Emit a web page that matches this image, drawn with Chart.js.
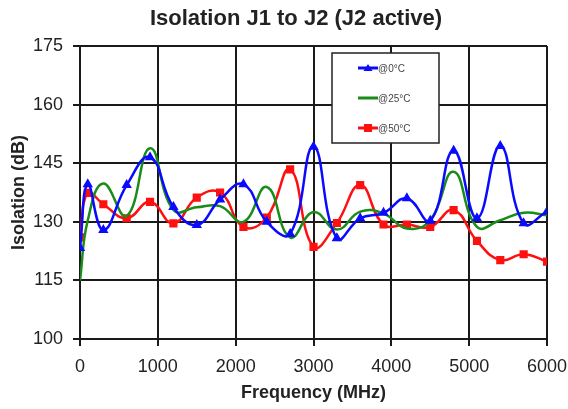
<!DOCTYPE html>
<html>
<head>
<meta charset="utf-8">
<script src="https://cdn.jsdelivr.net/npm/chart.js@4.4.1/dist/chart.umd.min.js"></script>
<style>
  html, body { margin: 0; padding: 0; background: #fff; }
</style>
</head>
<body>
<canvas id="chartCanvas" width="568" height="409"></canvas>
<script>
// --- Data ---
const freqMHz = [0, 100, 300, 600, 900, 1200, 1500, 1800, 2100, 2400, 2700, 3000, 3300, 3600, 3900, 4200, 4500, 4800, 5100, 5400, 5700, 6000];
const iso0C  = [123.3, 139.6, 127.9, 139.4, 146.5, 133.8, 129.2, 135.7, 139.6, 130.0, 126.9, 149.2, 125.8, 130.9, 132.3, 136.0, 130.3, 148.2, 130.9, 149.4, 129.6, 132.6];
const iso25C = [115.0, 130.4, 139.8, 131.5, 148.8, 133.0, 133.7, 134.0, 130.0, 138.9, 126.0, 132.5, 128.0, 132.6, 132.1, 128.3, 130.4, 142.8, 128.7, 130.4, 132.3, 131.7];
const iso50C = [126.0, 137.4, 134.5, 130.9, 135.1, 129.6, 136.2, 137.5, 128.7, 131.1, 143.4, 123.6, 129.7, 139.4, 129.3, 129.3, 128.7, 133.0, 125.1, 120.2, 121.7, 119.8];
const seriesNames = ["@0°C", "@25°C", "@50°C"];
const yTicks = [100, 115, 130, 145, 160, 175];
const xTicks = [0, 1000, 2000, 3000, 4000, 5000, 6000];

const chartTitle = "Isolation J1 to J2 (J2 active)";
const textColor = "#222";

const toPoints = vals => vals.map((v, i) => ({ x: freqMHz[i], y: v }));

// --- Title drawn over the plot ---
const titlePlugin = {
  id: "plotTitle",
  afterDraw(chart) {
    const ctx = chart.ctx;
    ctx.save();
    ctx.fillStyle = textColor;
    ctx.font = "bold 22px 'Liberation Sans', Arial, sans-serif";
    ctx.textAlign = "center";
    ctx.textBaseline = "middle";
    ctx.fillText(chartTitle, 296, 19);
    ctx.restore();
  }
};

// --- Boxed legend inside the plot ---
const boxLegend = {
  id: "boxLegend",
  afterDatasetsDraw(chart) {
    const ctx = chart.ctx;
    const bx = 332, by = 53, bw = 107, bh = 90;
    ctx.save();
    ctx.fillStyle = "#fff";
    ctx.fillRect(bx, by, bw, bh);
    ctx.strokeStyle = "#222";
    ctx.lineWidth = 1.5;
    ctx.strokeRect(bx, by, bw, bh);
    chart.data.datasets.forEach((ds, i) => {
      const cy = 68 + i * 30;
      ctx.strokeStyle = ds.borderColor;
      ctx.lineWidth = 3;
      ctx.beginPath();
      ctx.moveTo(358, cy);
      ctx.lineTo(378, cy);
      ctx.stroke();
      ctx.fillStyle = ds.borderColor;
      if (ds.pointStyle === "triangle" && ds.pointRadius > 0) {
        ctx.beginPath();
        ctx.moveTo(368, cy - 4);
        ctx.lineTo(372.5, cy + 3);
        ctx.lineTo(363.5, cy + 3);
        ctx.closePath();
        ctx.fill();
      } else if (ds.pointStyle === "rect" && ds.pointRadius > 0) {
        ctx.fillRect(364, cy - 4, 8, 8);
      }
      ctx.fillStyle = "#444";
      ctx.font = "10px 'Liberation Sans', Arial, sans-serif";
      ctx.textAlign = "left";
      ctx.textBaseline = "middle";
      ctx.fillText(ds.label, 378, cy + 1);
    });
    ctx.restore();
  }
};

const tickFont = { family: "'Liberation Sans', Arial, sans-serif", size: 18 };
const titleFont = { family: "'Liberation Sans', Arial, sans-serif", size: 18, weight: "bold" };
const gridStyle = { color: "#1a1a1a", lineWidth: 2, tickLength: 7, tickColor: "#1a1a1a", tickWidth: 2 };

const cfg = {
  type: "line",
  data: {
    datasets: [
      {
        label: seriesNames[0], data: toPoints(iso0C),
        borderColor: "#0a0aff", backgroundColor: "#0a0aff",
        borderWidth: 2.5, pointStyle: "triangle", pointRadius: 3.5, tension: 0.45
      },
      {
        label: seriesNames[1], data: toPoints(iso25C),
        borderColor: "#1a8c1a", backgroundColor: "#1a8c1a",
        borderWidth: 2.5, pointStyle: "circle", pointRadius: 0, tension: 0.45
      },
      {
        label: seriesNames[2], data: toPoints(iso50C),
        borderColor: "#ff1010", backgroundColor: "#ff1010",
        borderWidth: 2.5, pointStyle: "rect", pointRadius: 4, tension: 0.45
      }
    ]
  },
  options: {
    responsive: false,
    animation: false,
    layout: { padding: { top: 46, right: 21, left: 0, bottom: 0 } },
    plugins: {
      legend: { display: false },
      title: { display: false },
      tooltip: { enabled: false }
    },
    scales: {
      x: {
        type: "linear",
        min: 0, max: 6000,
        afterBuildTicks: s => { s.ticks = xTicks.map(v => ({ value: v })); },
        afterFit: s => { s.height = 70; s.paddingLeft = 0; s.paddingRight = 0; },
        grid: gridStyle,
        border: { color: "#1a1a1a", width: 2 },
        ticks: { color: textColor, font: tickFont, padding: 10, maxRotation: 0, callback: v => String(v) },
        title: { display: true, text: "Frequency (MHz)", color: textColor, font: titleFont, padding: { top: 0, bottom: 5 } }
      },
      y: {
        min: 100, max: 175,
        afterBuildTicks: s => { s.ticks = yTicks.map(v => ({ value: v })); },
        afterFit: s => { s.width = 80; s.paddingTop = 0; s.paddingBottom = 0; },
        grid: gridStyle,
        border: { color: "#1a1a1a", width: 2 },
        ticks: { color: textColor, font: tickFont, padding: 10, callback: v => String(v) },
        title: { display: true, text: "Isolation (dB)", color: textColor, font: titleFont, padding: { top: 8, bottom: 0 } }
      }
    }
  },
  plugins: [titlePlugin, boxLegend]
};

const canvas = document.getElementById("chartCanvas").getContext("2d");
new Chart(canvas, cfg);
</script>
</body>
</html>
